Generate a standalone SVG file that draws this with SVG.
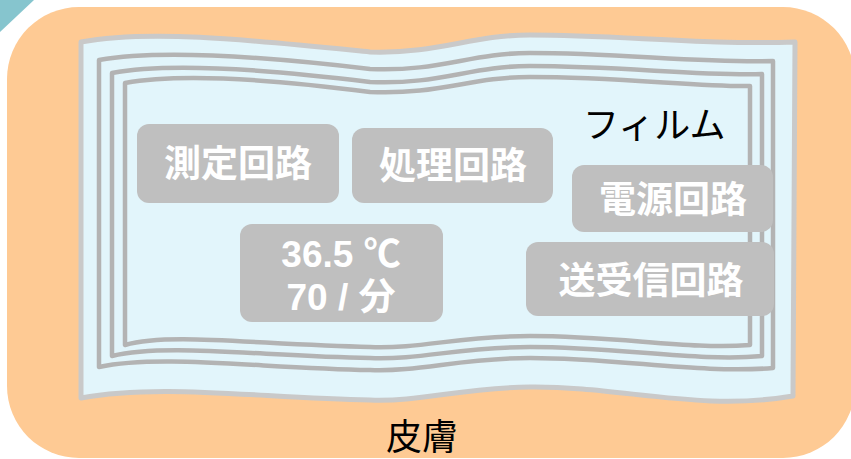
<svg xmlns="http://www.w3.org/2000/svg" width="851" height="459" viewBox="0 0 851 459">
<style>
.box{fill:#BFBFBF}
.bt{fill:#FFFFFF;font-family:"Liberation Sans","Noto Sans CJK JP",sans-serif;font-weight:bold;font-size:37px;text-anchor:middle}
.coil{fill:none;stroke:#B3B3B3;stroke-width:4.5;stroke-linejoin:round}
.lbl{fill:#000000;font-family:"Noto Sans CJK JP",sans-serif;font-size:36px}
</style>
<rect width="851" height="459" fill="#FFFFFF"/>
<polygon points="0,0 34,0 0,32" fill="#86C5CE"/>
<g id="skin">
<rect x="7" y="7" width="848" height="451" rx="72" fill="#FECA94"/>
<text class="lbl" x="422" y="450" font-size="42" text-anchor="middle">皮膚</text>
</g>
<g id="film">
<path d="M81,42 C150,29 250,40 370,52 C440,54 470,35 530,35 C620,35 700,45 795,42 L793,396 C700,412 620,386 530,387 C460,388 420,402 370,400 C260,398 160,383 81,398 Z" fill="#E2F5FB" stroke="#C9C9C9" stroke-width="5" stroke-linejoin="round"/>
<text class="lbl" x="583" y="138">フィルム</text>
</g>
<g id="coils">
<path class="coil" d="M99,60 C160,49 260,56 370,69 C440,72 470,53 530,53 C620,53 700,63 773,61 L773,368 C700,374 620,358 530,358 C460,358 420,372 370,370 C260,368 160,354 99,367 Z"/>
<path class="coil" d="M112,73 C170,62 265,69 370,82 C440,85 470,66 530,66 C620,66 700,76 762,74 L762,356 C700,362 620,347 530,347 C460,347 420,360 370,358 C260,356 165,343 112,356 Z"/>
<path class="coil" d="M125,83 C180,73 270,79 370,92 C440,95 470,77 530,77 C620,77 700,87 750,86 L750,345 C690,350 620,336 530,336 C460,336 420,349 370,347 C260,345 170,332 125,345 Z"/>
</g>
<g id="measure">
<rect class="box" x="137" y="124" width="202" height="79" rx="12"/>
<text class="bt" x="238" y="177">測定回路</text>
</g>
<g id="process">
<rect class="box" x="352" y="128" width="201" height="75" rx="12"/>
<text class="bt" x="453" y="179">処理回路</text>
</g>
<g id="power">
<rect class="box" x="572" y="165" width="201" height="67" rx="12"/>
<text class="bt" x="673" y="213">電源回路</text>
</g>
<g id="transceiver">
<rect class="box" x="526" y="242" width="248" height="74" rx="12"/>
<text class="bt" x="651" y="294">送受信回路</text>
</g>
<g id="reading">
<rect class="box" x="240" y="224" width="203" height="98" rx="12"/>
<text class="bt" x="341" y="267" font-size="34">36.5 ℃</text>
<text class="bt" x="341" y="310" font-size="34">70 / 分</text>
</g>
</svg>
